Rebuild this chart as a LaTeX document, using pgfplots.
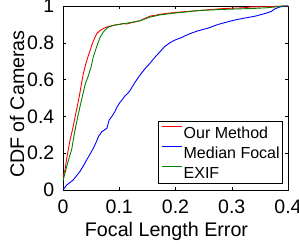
\documentclass[border=0pt]{standalone}
\usepackage{fontspec}
\setmainfont{Liberation Sans}
\usepackage{pgfplots}
\pgfplotsset{compat=1.18}
\definecolor{mgreen}{rgb}{0,0.5,0}
\begin{document}
\begin{tikzpicture}
\begin{axis}[
  name=ax,
  scale only axis,
  width=225pt, height=184pt,
  xmin=0, xmax=0.4, ymin=0, ymax=1,
  xtick={0,0.1,0.2,0.3,0.4},
  xticklabels={0,0.1,0.2,0.3,0.4},
  ytick={0,0.2,0.4,0.6,0.8,1},
  yticklabels={0,0.2,0.4,0.6,0.8,1},
  tick align=inside,
  major tick length=3pt,
  axis line style={line width=0.6pt},
  tick style={line width=0.5pt, black},
  /pgf/number format/assume math mode=true,
  ticklabel style={font=\fontsize{19.5}{22}\selectfont},
  yticklabel style={inner sep=0pt, anchor=east, xshift=-8.5pt},
  xticklabel style={inner sep=0pt, anchor=north, yshift=-10pt},
  xlabel={Focal Length Error},
  ylabel={CDF of Cameras},
  label style={font=\fontsize{19.7}{22}\selectfont},
  xlabel style={at={(axis description cs:0.46,-0.2554)}, anchor=base, inner sep=0pt},
  ylabel style={at={(axis description cs:-0.2044,0.467)}, anchor=center, inner sep=0pt},
  legend style={at={(rel axis cs:0.9778,0.0326)}, anchor=south east,
    draw=black, line width=0.6pt, inner xsep=3pt, inner ysep=1pt,
    font=\fontsize{16}{19}\selectfont,
    nodes={inner sep=0pt, text height=16pt, text depth=4pt},
    column sep=1pt},
  legend cell align=left,
  legend image code/.code={\draw[#1, line width=0.9pt] (0pt,6pt) -- (20pt,6pt);},
  every axis plot/.append style={line width=0.9pt},
]
\addplot[red] coordinates {
(0,0.07) (0.0036,0.11) (0.0065,0.17) (0.0124,0.27) (0.017,0.33) (0.021,0.39) (0.025,0.45) (0.029,0.51)
(0.033,0.58) (0.036,0.63) (0.040,0.68) (0.045,0.73) (0.050,0.775) (0.054,0.81) (0.060,0.85)
(0.065,0.865) (0.069,0.873) (0.075,0.882) (0.080,0.888) (0.090,0.895) (0.100,0.900)
(0.107,0.905) (0.113,0.902) (0.120,0.908) (0.130,0.915) (0.137,0.920) (0.145,0.932)
(0.155,0.945) (0.165,0.950) (0.173,0.955) (0.185,0.960) (0.200,0.965) (0.220,0.970)
(0.240,0.975) (0.260,0.980) (0.280,0.985) (0.300,0.988) (0.320,0.990) (0.335,0.995)
(0.360,0.996) (0.380,0.998) (0.400,1.000)
};
\addlegendentry{Our Method}
\addplot[blue] coordinates {
(0,0) (0.0065,0.027) (0.012,0.04) (0.018,0.054) (0.024,0.077) (0.030,0.10) (0.036,0.13) (0.042,0.163)
(0.048,0.195) (0.054,0.227) (0.059,0.26) (0.063,0.29) (0.069,0.317) (0.078,0.335)
(0.082,0.38) (0.087,0.40) (0.092,0.425) (0.096,0.45) (0.101,0.475) (0.105,0.49) (0.110,0.51)
(0.115,0.525) (0.119,0.54) (0.128,0.585) (0.137,0.625) (0.146,0.66) (0.155,0.69)
(0.163,0.72) (0.172,0.75) (0.181,0.78) (0.190,0.80) (0.199,0.815) (0.208,0.825)
(0.217,0.838) (0.226,0.85) (0.240,0.865) (0.258,0.88) (0.276,0.90) (0.288,0.91)
(0.300,0.92) (0.312,0.928) (0.324,0.935) (0.342,0.945) (0.360,0.96) (0.370,0.97)
(0.377,0.985) (0.386,0.995) (0.395,1.0) (0.400,1.0)
};
\addlegendentry{Median Focal}
\addplot[mgreen] coordinates {
(0,0.05) (0.0065,0.127) (0.0124,0.19) (0.0154,0.22) (0.021,0.32) (0.025,0.38) (0.030,0.45)
(0.036,0.53) (0.040,0.58) (0.045,0.62) (0.050,0.67) (0.054,0.725) (0.060,0.78)
(0.066,0.83) (0.072,0.86) (0.080,0.884) (0.090,0.895) (0.100,0.900) (0.110,0.905)
(0.120,0.910) (0.137,0.920) (0.155,0.940) (0.173,0.952) (0.200,0.962) (0.220,0.968)
(0.240,0.975) (0.260,0.978) (0.280,0.981) (0.300,0.983) (0.320,0.985) (0.340,0.987)
(0.360,0.990) (0.375,0.994) (0.390,1.000) (0.400,1.000)
};
\addlegendentry{EXIF}
\end{axis}
\pgfresetboundingbox
\path[use as bounding box] ([shift={(-63pt,-53pt)}]ax.south west) rectangle ([shift={(236pt,190pt)}]ax.south west);
\end{tikzpicture}
\end{document}
